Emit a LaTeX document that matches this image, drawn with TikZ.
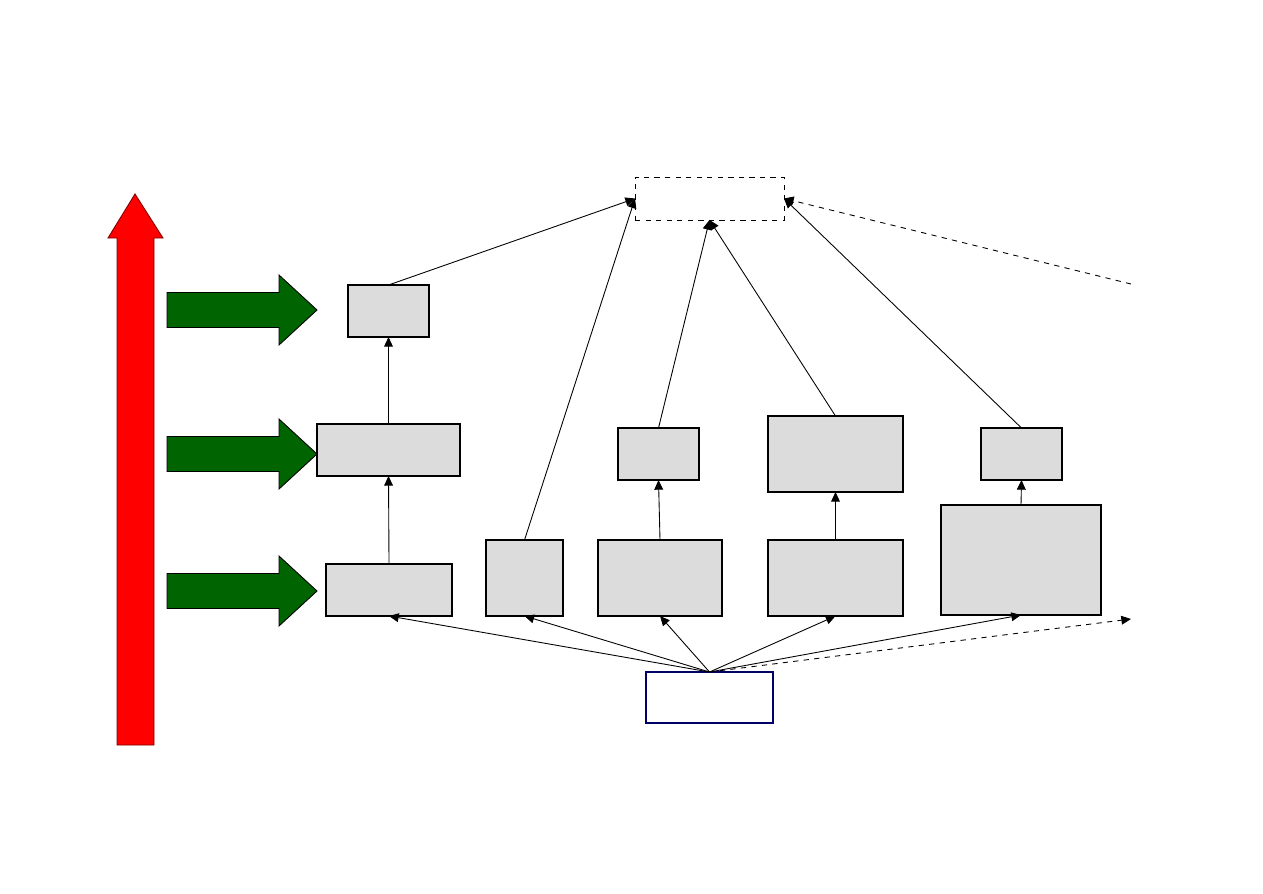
\documentclass[tikz,border=0pt]{standalone}
\usetikzlibrary{arrows.meta}
\definecolor{kastengrau}{HTML}{DCDCDC}
\definecolor{pfeilgruen}{HTML}{006400}
\definecolor{rahmenblau}{HTML}{000066}
\begin{document}
\begin{tikzpicture}[x=0.02cm, y=-0.02cm,
	kasten/.style 2 args={draw=black, fill=kastengrau, line width=0.7pt, inner sep=0pt, outer sep=0pt, minimum width=#1*0.02cm, minimum height=#2*0.02cm},
	verbindung/.style={line width=0.5pt, -{Triangle[length=5.5pt, width=5pt]}}]
	\useasboundingbox (0,0) rectangle (1263,893);
	
	% Roter Pfeil (links)
	\filldraw[fill=red, draw=red!50!black, line width=0.5pt] (117,745) -- (117,238) -- (108,238) -- (135,194) -- (163,238) -- (154,238) -- (154,745) -- cycle;
	
	% Gruene Pfeile
	\foreach \y in {310, 454, 591}
		\filldraw[fill=pfeilgruen, draw=black, line width=0.5pt] (167,\y-17.5) -- (279,\y-17.5) -- (279,\y-35) -- (317,\y) -- (279,\y+35) -- (279,\y+17.5) -- (167,\y+17.5) -- cycle;
	
	% Kaesten
	\node[kasten={81}{52}] (a) at (388.5,311) {};
	\node[kasten={143}{52}] (b) at (388.5,450) {};
	\node[kasten={126}{52}] (c) at (389,590) {};
	\node[kasten={77}{76}] (d) at (524.5,578) {};
	\node[kasten={124}{76}] (e) at (660,578) {};
	\node[kasten={81}{52}] (f) at (658.5,454) {};
	\node[kasten={135}{76}] (g) at (835.5,454) {};
	\node[kasten={135}{76}] (h) at (835.5,578) {};
	\node[kasten={81}{52}] (i) at (1021.5,454) {};
	\node[kasten={160}{110}] (j) at (1021,560) {};
	
	% Ziel (oben) und Quelle (unten)
	\node[kasten={149}{43}, fill=white, dashed, line width=0.5pt] (ziel) at (709.5,198.5) {};
	\node[kasten={127}{51}, fill=white, draw=rahmenblau] (quelle) at (709.5,697.5) {};
	\coordinate (rechtsunten) at (1131,619);
	\coordinate (rechtsoben) at (1131,284);
	
	% Verbindungen von der Quelle
	\foreach \k in {c, d, e, h, j}
		\draw[verbindung] (quelle.north) -- (\k.south);
	\draw[verbindung, dashed] (quelle.north) -- (rechtsunten);
	
	% Verbindungen nach oben
	\draw[verbindung] (c.north) -- (b.south);
	\draw[verbindung] (b.north) -- (a.south);
	\draw[verbindung] (e.north) -- (f.south);
	\draw[verbindung] (h.north) -- (g.south);
	\draw[verbindung] (j.north) -- (i.south);
	\draw[verbindung] (a.north) -- (ziel.west);
	\draw[verbindung] (d.north) -- (ziel.west);
	\draw[verbindung] (f.north) -- (ziel.south);
	\draw[verbindung] (g.north) -- (ziel.south);
	\draw[verbindung] (i.north) -- (ziel.east);
	\draw[verbindung, dashed] (rechtsoben) -- (ziel.east);
\end{tikzpicture}
\end{document}
